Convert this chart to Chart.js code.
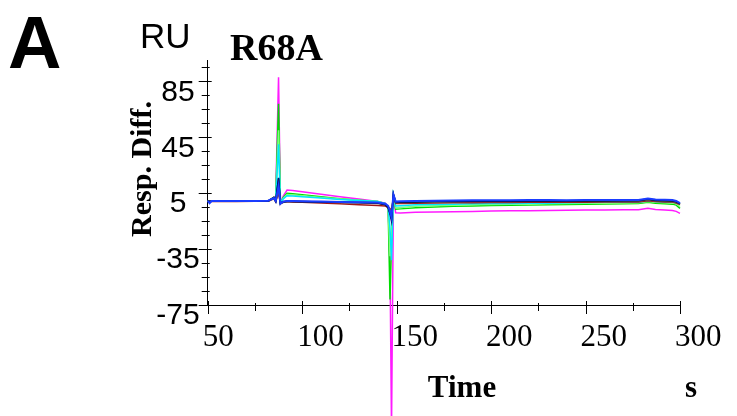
<!DOCTYPE html>
<html>
<head>
<meta charset="utf-8">
<title>R68A sensorgram</title>
<script src="https://cdn.jsdelivr.net/npm/chart.js@4"></script>
<style>
  html, body { margin: 0; padding: 0; background: #fff; }
</style>
</head>
<body>
<canvas id="sensorgram" width="737" height="416"></canvas>
<script>
// Sample times (s)
const times = [50, 51, 52, 55, 65, 75, 82, 85, 86, 87.5, 88.5, 90, 92, 95, 100, 110, 120, 130, 140, 144,
  145.5, 146.5, 147.3, 148.3, 149.5, 152, 160, 170, 180, 190, 200, 210, 220, 230, 240, 250, 260, 270,
  278, 283, 287, 292, 296, 298, 300];

// Response difference (RU) for each concentration
const blueResp = [-0.5, -2.2, -0.6, -0.5, -0.6, -0.5, -0.4, 1.5, -0.5, 10, -2.5, -1, -0.5, -0.6, -0.8, -1, -1.2, -1.4, -1.6, -2.5,
  -4, -8, -12, 4, -1, -0.8, -0.6, -0.4, -0.2, -0.1, 0, 0, 0.1, 0.1, 0, 0.1, 0.1, 0.2,
  0.2, 1.3, 0.5, 0.3, 0.2, -0.5, -2];
const navyResp = [-0.6, -1.2, -0.7, -0.6, -0.6, -0.6, -0.5, 1.8, -1, 16, -2, -1, -0.8, -0.9, -1, -1.2, -1.4, -1.6, -1.9, -3,
  -5, -10, -15, 4.4, -1.3, -1.1, -0.9, -0.7, -0.6, -0.5, -0.4, -0.4, -0.3, -0.3, -0.3, -0.2, -0.2, -0.2,
  -0.1, 0.9, 0.1, -0.1, -0.2, -1, -2.4];
const blackResp = [-0.6, -0.8, -0.7, -0.6, -0.7, -0.6, -0.6, 2, -0.5, 15.7, -2.2, -1.2, -0.9, -1, -1.1, -1.3, -1.5, -1.7, -2, -3.2,
  -5.5, -9, -13, 4, -1.6, -1.4, -1.2, -1, -0.9, -0.8, -0.7, -0.7, -0.6, -0.6, -0.5, -0.5, -0.5, -0.4,
  -0.4, 0.6, -0.2, -0.4, -0.5, -1.2, -2.6];
const grayResp = [-0.7, -0.8, -0.8, -0.7, -0.8, -0.7, -0.7, 1.2, -1, 8, -2.5, -1.5, -0.6, -0.8, -1, -1.3, -1.6, -1.9, -2.3, -3.3,
  -5, -7, -10, 3, -1.8, -1.6, -1.4, -1.2, -1.1, -1, -0.9, -0.9, -0.8, -0.8, -0.7, -0.7, -0.7, -0.6,
  -0.6, 0.4, -0.4, -0.6, -0.7, -1.4, -2.8];
const maroonResp = [-0.8, -1, -0.9, -0.8, -0.9, -0.8, -0.8, 1, -1, 5, -2.5, -1.5, -1, -1.2, -1.5, -2, -2.5, -3.2, -3.8, -4.2,
  -5, -6, -8, 2.5, -2.4, -2.3, -2.2, -2, -1.9, -1.8, -1.7, -1.6, -1.5, -1.5, -1.4, -1.4, -1.3, -1.3,
  -1.2, -0.3, -1, -1.2, -1.3, -2, -3.2];
const cyanResp = [-0.6, -0.9, -0.7, -0.6, -0.7, -0.6, -0.6, 1.5, 0, 40, -2, 1, 3.2, 3, 2.5, 1.5, 0.5, -0.2, -1, -2.5,
  -5, -20, -43, 3.5, -4.2, -4, -3.2, -3, -2.8, -2.6, -2.4, -2.3, -2.2, -2.1, -1.9, -1.6, -1.5, -1.4,
  -1.3, -0.6, -1, -1.2, -1.3, -1.8, -2.6];
const limeResp = [-0.6, -0.9, -0.7, -0.6, -0.7, -0.6, -0.6, 2, 1, 50, -2, 1.5, 4, 3.8, 3.2, 2, 0.8, -0.1, -1, -2.5,
  -5, -40, -25, 3, -5.5, -5.2, -4.4, -4, -3.6, -3.3, -3.1, -2.9, -2.8, -2.6, -2.4, -2.2, -2.1, -2,
  -1.9, -1, -1.5, -1.8, -2, -2.6, -4.5];
const greenResp = [-0.6, -0.9, -0.7, -0.6, -0.7, -0.6, -0.6, 2, 1.5, 69, -2, 2, 5, 4.6, 4, 2.5, 1, 0, -1, -2.5,
  -5, -71, -30, 3, -6.5, -6.2, -5.4, -4.9, -4.4, -4.1, -3.8, -3.6, -3.4, -3.2, -3, -2.8, -2.7, -2.5,
  -2.4, -1.5, -2.2, -2.5, -2.8, -3.5, -5.8];
const magentaResp = [-0.6, -0.9, -0.7, -0.6, -0.7, -0.6, -0.6, 2, 2.5, 88, -2, 3, 7.3, 7, 6, 4.3, 2.5, 0.8, -1, -2.2,
  -5, -45, -165, 2, -9, -9.2, -8.7, -8.5, -8.2, -8, -7.8, -7.6, -7.5, -7.3, -7.2, -7, -7, -6.9,
  -6.8, -5.8, -6.6, -7, -7.3, -8, -9.4];

// Axis ticks: labelled every 50 s / 40 RU, unlabelled in between
const xTicks = [50, 75, 100, 125, 150, 175, 200, 225, 250, 275, 300];
const xLabelled = [50, 100, 150, 200, 250, 300];
const yTicks = [-75, -65, -55, -45, -35, -25, -15, -5, 5, 15, 25, 35, 45, 55, 65, 75, 85, 95];
const yLabelled = [-75, -35, 5, 45, 85];

const toPoints = vals => vals.map((y, i) => ({ x: times[i], y: y }));

const series = [
  { color: '#1a3cff', values: blueResp, width: 2 },
  { color: '#00107a', values: navyResp, width: 1.5 },
  { color: '#111111', values: blackResp, width: 1.5 },
  { color: '#6e6e6e', values: grayResp, width: 1.5 },
  { color: '#a01818', values: maroonResp, width: 1.5 },
  { color: '#00e5ff', values: cyanResp, width: 1.5 },
  { color: '#7dff7d', values: limeResp, width: 1.5 },
  { color: '#00dd00', values: greenResp, width: 1.5 },
  { color: '#ff1aff', values: magentaResp, width: 1.5 }
];

// Tick marks cross the axis line; labelled ones are a bit longer
const crossTicks = {
  id: 'crossTicks',
  afterDraw(chart) {
    const { ctx, scales: { x, y }, chartArea } = chart;
    ctx.save();
    ctx.strokeStyle = '#000';
    ctx.lineWidth = 1;
    ctx.beginPath();
    xTicks.forEach(v => {
      const px = Math.round(x.getPixelForValue(v)) + 0.5;
      const major = xLabelled.includes(v);
      ctx.moveTo(px, chartArea.bottom - (major ? 4 : 2));
      ctx.lineTo(px, chartArea.bottom + (major ? 9 : 6));
    });
    yTicks.forEach(v => {
      const py = Math.round(y.getPixelForValue(v)) + 0.5;
      const major = yLabelled.includes(v);
      ctx.moveTo(chartArea.left - (major ? 9 : 6), py);
      ctx.lineTo(chartArea.left + (major ? 4 : 2), py);
    });
    ctx.stroke();
    ctx.restore();
  }
};

// Panel letter, unit and axis titles
const panelText = {
  id: 'panelText',
  afterDraw(chart) {
    const ctx = chart.ctx;
    ctx.save();
    ctx.fillStyle = '#000';
    ctx.textBaseline = 'alphabetic';
    ctx.textAlign = 'left';
    ctx.font = 'bold 74px "Liberation Sans"';
    ctx.fillText('A', 8, 68);
    ctx.font = '35px "Liberation Sans"';
    ctx.fillText('RU', 140, 48);
    ctx.font = 'bold 38px "Liberation Serif"';
    ctx.fillText('R68A', 230, 60);
    ctx.textAlign = 'center';
    ctx.font = 'bold 31px "Liberation Serif"';
    ctx.fillText('Time', 462, 397);
    ctx.fillText('s', 691, 397);
    ctx.translate(143, 169);
    ctx.rotate(-Math.PI / 2);
    ctx.font = 'bold 30px "Liberation Serif"';
    ctx.textBaseline = 'middle';
    ctx.fillText('Resp. Diff.', 0, 0);
    ctx.restore();
  }
};

const ctx = document.getElementById('sensorgram').getContext('2d');
new Chart(ctx, {
  type: 'line',
  data: {
    datasets: series.map(s => ({
      data: toPoints(s.values),
      borderColor: s.color,
      borderWidth: s.width,
      pointRadius: 0,
      tension: 0,
      fill: false,
      clip: false
    }))
  },
  options: {
    responsive: false,
    animation: false,
    layout: { padding: { top: 60.5, right: 57, bottom: 0, left: 0 } },
    plugins: {
      legend: { display: false },
      tooltip: { enabled: false }
    },
    scales: {
      x: {
        type: 'linear',
        min: 50,
        max: 300,
        afterBuildTicks: scale => { scale.ticks = xTicks.map(v => ({ value: v })); },
        afterFit: scale => { scale.height = 111; },
        border: { color: '#000', width: 1 },
        // tick marks themselves come from crossTicks; these only reserve room for them
        grid: { drawOnChartArea: false, tickLength: 6, tickColor: 'rgba(0,0,0,0)' },
        ticks: {
          autoSkip: false,
          maxRotation: 0,
          align: 'start',
          labelOffset: -5,
          padding: 8,
          color: '#000',
          font: { family: '"Liberation Serif"', size: 31 },
          callback: v => (xLabelled.includes(v) ? String(v) : '')
        }
      },
      y: {
        type: 'linear',
        min: -75,
        max: 100,
        afterBuildTicks: scale => { scale.ticks = yTicks.map(v => ({ value: v })); },
        afterFit: scale => { scale.width = 207.7; },
        border: { color: '#000', width: 1 },
        grid: { drawOnChartArea: false, tickLength: 6, tickColor: 'rgba(0,0,0,0)' },
        ticks: {
          autoSkip: false,
          crossAlign: 'center',
          labelOffset: 11,
          padding: 2,
          color: '#000',
          font: { family: '"Liberation Sans"', size: 30 },
          callback: v => (yLabelled.includes(v) ? String(v) : '')
        }
      }
    }
  },
  plugins: [crossTicks, panelText]
});
</script>
</body>
</html>
